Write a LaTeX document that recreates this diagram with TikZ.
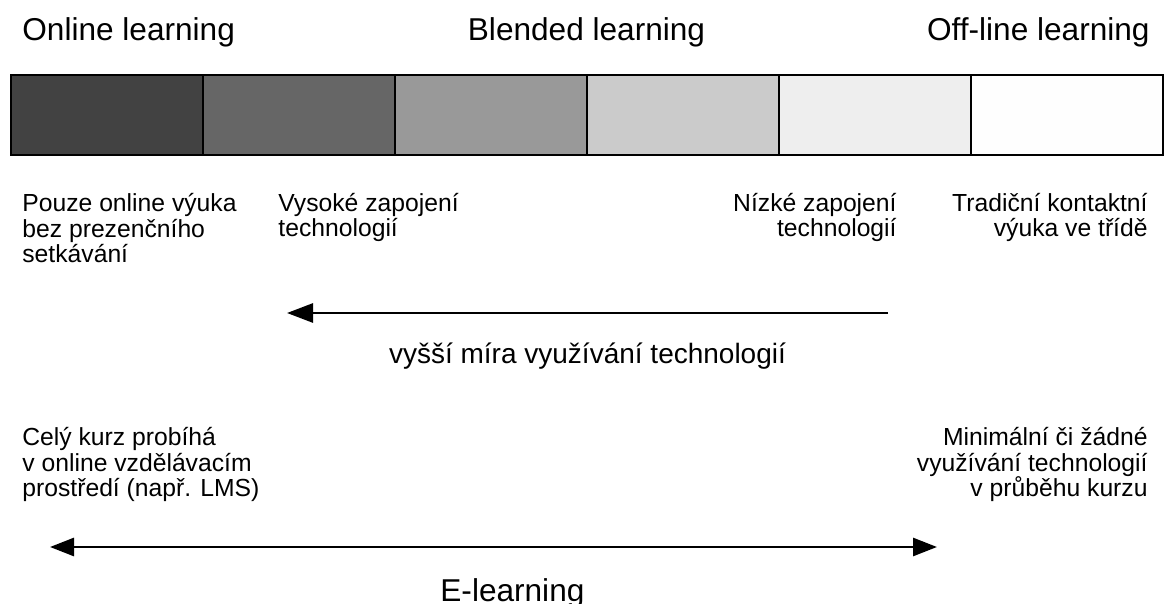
\documentclass[tikz,border=0pt]{standalone}
\usepackage{fontspec}
\setmainfont{Liberation Sans}
\usetikzlibrary{arrows.meta}
\definecolor{g1}{HTML}{424242}
\definecolor{g2}{HTML}{666666}
\definecolor{g3}{HTML}{999999}
\definecolor{g4}{HTML}{CBCBCB}
\definecolor{g5}{HTML}{EEEEEE}
\definecolor{g6}{HTML}{FEFEFE}
\begin{document}
\begin{tikzpicture}[x=0.5pt,y=-0.5pt,
  title/.style={font=\fontsize{15.8pt}{19pt}\selectfont, inner sep=0pt},
  mid/.style={font=\fontsize{14pt}{16pt}\selectfont, inner sep=0pt},
  note/.style={font=\fontsize{12.35pt}{12.9pt}\selectfont, inner sep=0pt},
  seg/.style={draw=black, line width=1pt, minimum width=96pt, minimum height=40pt, inner sep=0pt, outer sep=0pt},
  arr/.style={line width=1.4pt, -{Triangle[length=13pt,width=9.5pt]}},
  darr/.style={line width=1.4pt, {Triangle[length=12pt,width=9pt]}-{Triangle[length=12pt,width=9pt]}}]
\useasboundingbox (0,0) rectangle (1164,604);

% headings
\node[title, anchor=base west] (online) at (22,41) {Online learning};
\node[title, anchor=base] (blended) at (586.5,41) {Blended learning};
\node[title, anchor=base east] (offline) at (1150,41) {Off-line learning};

% grey scale bar, six equal cells
\node[seg, fill=g1] (s1) at (106.5,115) {};
\node[seg, fill=g2] (s2) at (298.5,115) {};
\node[seg, fill=g3] (s3) at (490.5,115) {};
\node[seg, fill=g4] (s4) at (682.5,115) {};
\node[seg, fill=g5] (s5) at (874.5,115) {};
\node[seg, fill=g6] (s6) at (1066.5,115) {};

% descriptions under the bar (base = baseline of the last line)
\node[note, anchor=base west, align=left] (d1) at (22,263)
  {Pouze online výuka\\bez prezenčního\\setkávání};
\node[note, anchor=base west, align=left] (d2) at (278,237)
  {Vysoké zapojení\\technologií};
\node[note, anchor=base east, align=right] (d3) at (897,237)
  {Nízké zapojení\\technologií};
\node[note, anchor=base east, align=right] (d4) at (1148,237)
  {Tradiční kontaktní\\výuka ve třídě};

% technology arrow
\coordinate (t1) at (888,313);
\coordinate (t2) at (287,313);
\draw[arr] (t1) -- (t2);
\node[mid, anchor=base] (tech) at (587.5,364) {vyšší míra využívání technologií};

% e-learning range
\node[note, anchor=base west, align=left] (e1) at (22,497)
  {Celý kurz probíhá\\v online vzdělávacím\\prostředí (např. LMS)};
\node[note, anchor=base east, align=right] (e2) at (1148,497)
  {Minimální či žádné\\využívání technologií\\v průběhu kurzu};
\coordinate (r1) at (50,547);
\coordinate (r2) at (937,547);
\draw[darr] (r1) -- (r2);
\node[title, anchor=base west] (elearn) at (440,602) {E-learning};
\end{tikzpicture}
\end{document}
